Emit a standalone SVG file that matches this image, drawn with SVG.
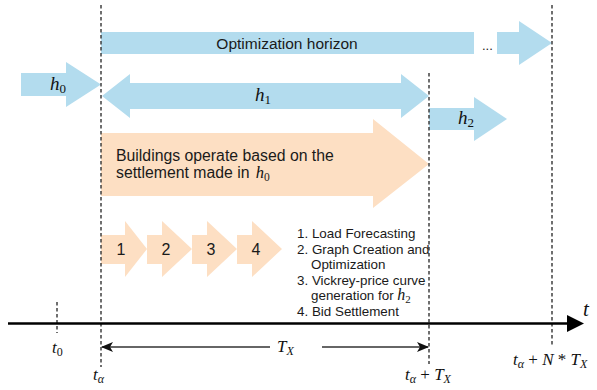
<svg xmlns="http://www.w3.org/2000/svg" width="597" height="390" viewBox="0 0 597 390">
  <defs>
    <style>
      .blue { fill: #b3dcee; }
      .peach { fill: #fddfc3; }
      .guide { stroke: #333; stroke-width: 1.4; stroke-dasharray: 3.5 2.5; fill: none; }
      .sans { font-family: "Liberation Sans", Arial, sans-serif; fill: #1a1a1a; }
      .math { font-family: "Liberation Serif", "Times New Roman", serif; font-style: italic; fill: #111; }
      .up { font-style: normal; }
      .span-line { stroke: #333; stroke-width: 1.4; fill: none; }
    </style>
    <marker id="tip" viewBox="0 0 12 10" refX="11" refY="5" markerWidth="12" markerHeight="10" markerUnits="userSpaceOnUse" orient="auto">
      <path d="M0,0 L12,5 L0,10 L3,5 Z" fill="#111"/>
    </marker>
  </defs>

  <rect width="597" height="390" fill="#fff"/>

  <!-- horizon arrows (blue) -->
  <g id="optimization-horizon">
    <rect class="blue" x="101" y="32" width="373" height="22"/>
    <text class="sans" x="287" y="48.5" font-size="15.5" text-anchor="middle">Optimization horizon</text>
    <text class="sans" x="482" y="50" font-size="13">...</text>
    <polygon class="blue" points="497,32 519,32 519,21 552,43 519,65 519,54 497,54"/>
  </g>

  <g id="h0">
    <polygon class="blue" points="21,73 66,73 66,62 101,84.5 66,107 66,96 21,96"/>
    <text class="math" x="50" y="90" font-size="19">h<tspan class="up" font-size="13" dy="3">0</tspan></text>
  </g>

  <g id="h1">
    <polygon class="blue" points="102,96 130,74 130,83 401,83 401,74 429,96 401,118 401,109 130,109 130,118"/>
    <text class="math" x="255" y="101" font-size="19">h<tspan class="up" font-size="13" dy="3">1</tspan></text>
  </g>

  <g id="h2">
    <polygon class="blue" points="429,108 474,108 474,97 507,119 474,141 474,130 429,130"/>
    <text class="math" x="458" y="124" font-size="19">h<tspan class="up" font-size="13" dy="3">2</tspan></text>
  </g>

  <!-- settlement period (peach) -->
  <g id="operation">
    <polygon class="peach" points="101,133 373,133 373,119 429,164 373,208 373,196 101,196"/>
    <text class="sans" x="116" y="160.5" font-size="15.8">Buildings operate based on the</text>
    <text class="sans" x="116" y="178" font-size="15.8">settlement made in <tspan class="math" font-size="16.5" dx="2">h</tspan><tspan class="up" font-family="Liberation Serif, serif" font-size="11.5" dy="3">0</tspan></text>
  </g>

  <g id="step-1">
    <polygon class="peach" points="101,235 125,235 125,221 147,249 125,277 125,264 101,264"/>
    <text class="sans" x="121" y="255" font-size="16" text-anchor="middle">1</text>
  </g>
  <g id="step-2">
    <polygon class="peach" points="147,235 162,235 162,221 192,249 162,277 162,264 147,264"/>
    <text class="sans" x="166" y="255" font-size="16" text-anchor="middle">2</text>
  </g>
  <g id="step-3">
    <polygon class="peach" points="192,235 207,235 207,221 237,249 207,277 207,264 192,264"/>
    <text class="sans" x="211" y="255" font-size="16" text-anchor="middle">3</text>
  </g>
  <g id="step-4">
    <polygon class="peach" points="237,235 252,235 252,221 282,249 252,277 252,264 237,264"/>
    <text class="sans" x="256" y="255" font-size="16" text-anchor="middle">4</text>
  </g>

  <g id="step-list" class="sans" font-size="13.4">
    <text x="297" y="238">1. Load Forecasting</text>
    <text x="297" y="253.5">2. Graph Creation and</text>
    <text x="311" y="269">Optimization</text>
    <text x="297" y="284.5">3. Vickrey-price curve</text>
    <text x="311" y="300">generation for <tspan class="math" font-size="16">h</tspan><tspan class="up" font-family="Liberation Serif, serif" font-size="11" dy="2.5">2</tspan></text>
    <text x="297" y="315.5">4. Bid Settlement</text>
  </g>

  <!-- time axis, guides and span -->
  <g id="connectors">
    <line class="guide" x1="101" y1="5" x2="101" y2="367"/>
    <line class="guide" x1="429" y1="73" x2="429" y2="364"/>
    <line class="guide" x1="552" y1="5" x2="552" y2="347"/>
    <line class="guide" x1="57" y1="302" x2="57" y2="333"/>
    <line x1="8" y1="323.5" x2="570" y2="323.5" stroke="#000" stroke-width="2.6"/>
    <polygon points="567,315 584,323.5 567,332" fill="#000"/>
    <line class="span-line" x1="270" y1="347" x2="102" y2="347" marker-end="url(#tip)"/>
    <line class="span-line" x1="322" y1="347" x2="428" y2="347" marker-end="url(#tip)"/>
  </g>

  <g id="axis-labels">
    <text class="math" x="583" y="316" font-size="21">t</text>
    <text class="math" x="52" y="353" font-size="17">t<tspan class="up" font-size="12" dy="3">0</tspan></text>
    <text class="math" x="93" y="380" font-size="17">t<tspan font-size="12" dy="3">α</tspan></text>
    <text class="math" x="277" y="352" font-size="17">T<tspan font-size="12" dy="3">X</tspan></text>
    <text class="math" x="405" y="380" font-size="17">t<tspan font-size="12" dy="3">α</tspan><tspan class="up" dy="-3"> + </tspan>T<tspan font-size="12" dy="3">X</tspan></text>
    <text class="math" x="513" y="365" font-size="17">t<tspan font-size="12" dy="3">α</tspan><tspan class="up" dy="-3"> + </tspan>N<tspan class="up"> * </tspan>T<tspan font-size="12" dy="3">X</tspan></text>
  </g>
</svg>
